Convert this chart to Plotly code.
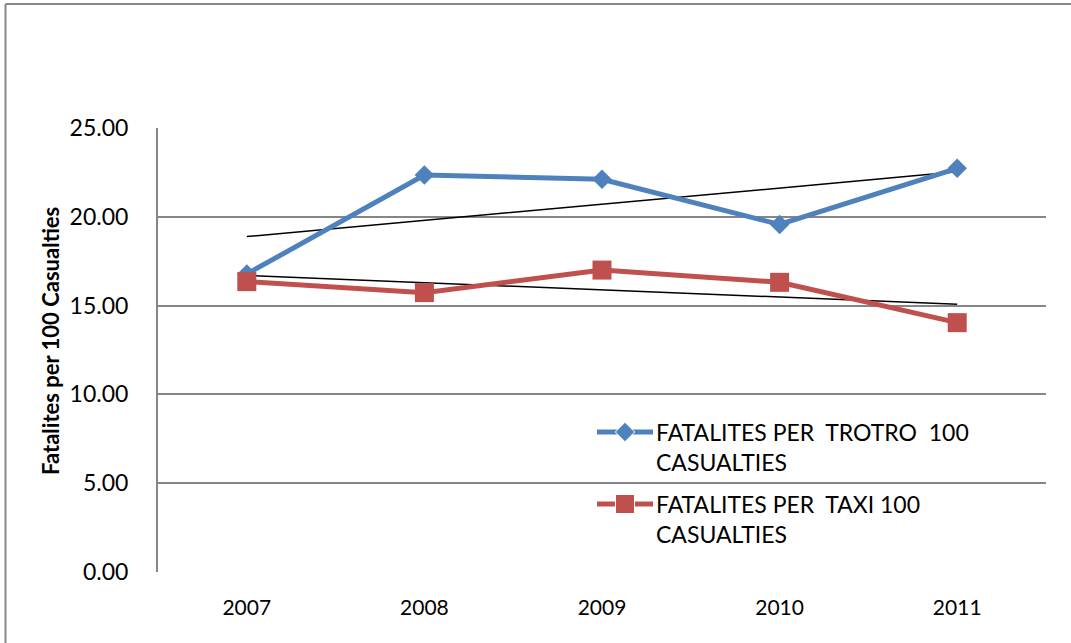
import numpy as np
import plotly.graph_objects as go

# Fatalities per 100 casualties, by year
years = ["2007", "2008", "2009", "2010", "2011"]
trotro = [16.78, 22.35, 22.11, 19.57, 22.73]
taxi = [16.35, 15.73, 17.00, 16.31, 14.04]
trotro_name = ["FATALITES PER  TROTRO  100", "CASUALTIES"]
taxi_name = ["FATALITES PER  TAXI 100", "CASUALTIES"]
y_ticks = [0, 5, 10, 15, 20, 25]

BLUE = "#4F81BD"
RED = "#C0504D"
GRID = "#868686"
FONT = "Lato"

# pixel geometry of the plot area
W, H = 1071, 643
L, R, T, B = 158, 1046, 128, 572


def px_x(px):
    return (px - L) / (R - L)


def px_y(py):
    return (B - py) / (B - T)


fig = go.Figure()

# linear trend lines spanning first to last year
idx = np.arange(len(years))
for vals in (trotro, taxi):
    slope, icpt = np.polyfit(idx, vals, 1)
    fig.add_trace(go.Scatter(
        x=[years[0], years[-1]], y=[icpt, icpt + slope * idx[-1]],
        mode="lines", line=dict(color="black", width=1.5),
        showlegend=False, hoverinfo="skip"))

fig.add_trace(go.Scatter(
    x=years, y=trotro, mode="lines+markers", name=" ".join(trotro_name),
    line=dict(color=BLUE, width=5),
    marker=dict(symbol="diamond", size=15, color=BLUE), showlegend=False))
fig.add_trace(go.Scatter(
    x=years, y=taxi, mode="lines+markers", name=" ".join(taxi_name),
    line=dict(color=RED, width=5),
    marker=dict(symbol="square", size=19, color=RED), showlegend=False))

# legend keys drawn on an overlay axis spanning the plot area
for color, sym, size, py in ((BLUE, "diamond", 15, 432), (RED, "square", 19, 504)):
    fig.add_trace(go.Scatter(
        x=[px_x(597), px_x(625), px_x(653)], y=[px_y(py)] * 3,
        xaxis="x2", yaxis="y2", mode="lines+markers",
        line=dict(color=color, width=5),
        marker=dict(symbol=sym, size=[0, size, 0], color=color, opacity=1),
        showlegend=False, hoverinfo="skip"))

annotations = []
for lines, py in ((trotro_name, 432), (taxi_name, 504)):
    for k, txt in enumerate(lines):
        annotations.append(dict(
            text=txt.replace(" ", "&nbsp;"), x=px_x(654), y=px_y(py + 30 * k),
            xref="paper", yref="paper", xanchor="left", yanchor="middle",
            showarrow=False, font=dict(family=FONT, size=23, color="black")))

annotations.append(dict(
    text="<b>Fatalites per 100 Casualties</b>", x=px_x(50), y=px_y(341),
    xref="paper", yref="paper", xanchor="center", yanchor="middle",
    textangle=-90, showarrow=False, font=dict(family=FONT, size=22, color="black")))

# outer chart frame (top and left edges)
shapes = [
    dict(type="line", xref="paper", yref="paper", x0=px_x(5.5), x1=px_x(1075),
         y0=px_y(4), y1=px_y(4), line=dict(color="#878787", width=2)),
    dict(type="line", xref="paper", yref="paper", x0=px_x(5.5), x1=px_x(5.5),
         y0=px_y(4), y1=px_y(650), line=dict(color="#878787", width=2)),
]

fig.update_layout(
    width=W, height=H, autosize=False,
    margin=dict(l=L, r=W - R, t=T, b=H - B, pad=0),
    paper_bgcolor="white", plot_bgcolor="white",
    showlegend=False,
    annotations=annotations, shapes=shapes,
    xaxis=dict(
        type="category", categoryorder="array", categoryarray=years,
        range=[-0.5, 4.5], showgrid=False, zeroline=False,
        showline=False, ticks="", ticklabelstandoff=21,
        tickfont=dict(family=FONT, size=21, color="black")),
    yaxis=dict(
        range=[0, 25], tickvals=y_ticks, tickformat=".2f",
        showgrid=True, gridcolor=GRID, gridwidth=1.5, zeroline=False,
        showline=True, linecolor=GRID, linewidth=2, ticks="",
        ticklabelstandoff=23,
        tickfont=dict(family=FONT, size=23, color="black")),
    xaxis2=dict(overlaying="x", range=[0, 1], visible=False),
    yaxis2=dict(overlaying="y", range=[0, 1], visible=False),
)

fig.write_html("out.html")
